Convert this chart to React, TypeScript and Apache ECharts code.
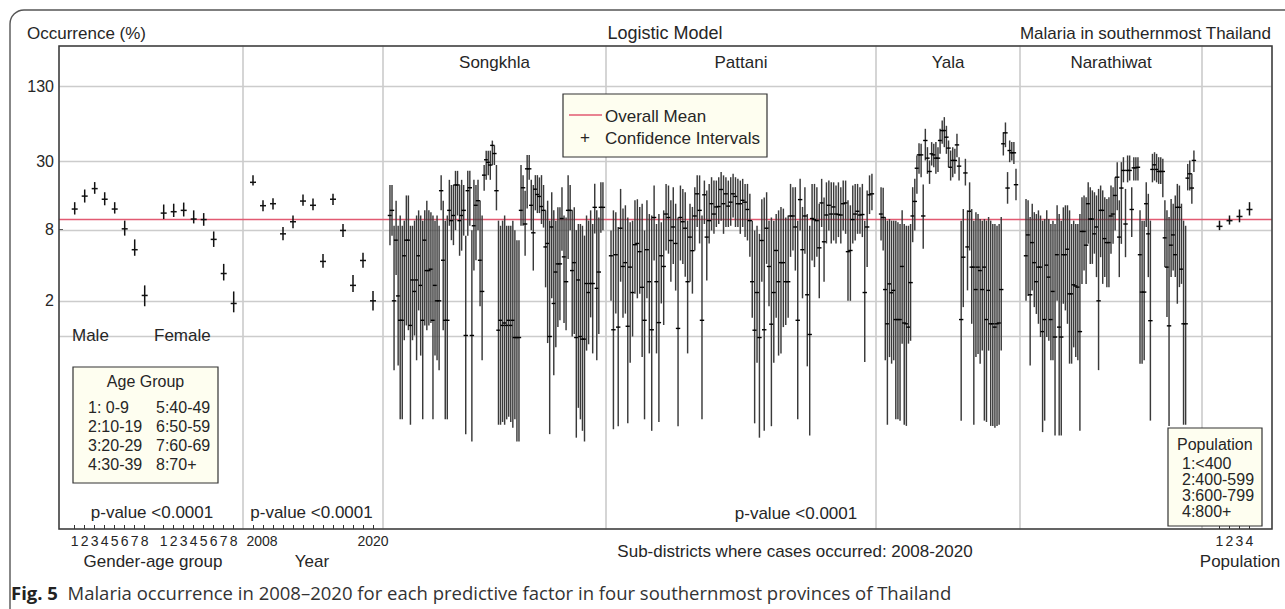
import React, { useEffect, useRef } from 'react';
import * as echarts from 'echarts';

// ---------------- data (percent occurrence) ----------------
const Y_TICKS = [130, 30, 8, 2];
const GRID_VALUES = [130, 30, 8, 2, 1];
const OVERALL_MEAN = 9.7;

const AGE_CODES = ['1', '2', '3', '4', '5', '6', '7', '8'];
const MALE_EST = [11.9, 15.3, 17.7, 14.4, 11.9, 8.1, 5.4, 2.22];
const MALE_LO = [10.7, 13.5, 16.0, 12.8, 10.9, 7.1, 4.8, 1.8];
const MALE_HI = [13.6, 17.4, 20.1, 16.5, 13.6, 9.5, 6.6, 2.7];
const FEMALE_EST = [11.0, 11.3, 11.6, 9.8, 9.7, 6.6, 3.4, 1.9];
const FEMALE_LO = [9.8, 10.2, 10.3, 9.0, 8.6, 5.7, 2.97, 1.6];
const FEMALE_HI = [13.0, 13.2, 13.5, 11.6, 11.0, 7.7, 4.1, 2.4];

const YEARS = [2008, 2009, 2010, 2011, 2012, 2013, 2014, 2015, 2016, 2017, 2018, 2019, 2020];
const YEAR_EST = [20.0, 12.7, 13.2, 7.35, 9.3, 13.9, 12.8, 4.3, 14.4, 7.85, 2.7, 4.38, 2.0];
const YEAR_LO = [18.8, 11.4, 11.8, 6.5, 8.2, 12.7, 11.6, 3.8, 12.9, 6.9, 2.37, 3.8, 1.66];
const YEAR_HI = [22.9, 14.1, 14.7, 8.4, 10.5, 15.8, 14.6, 4.96, 16.0, 8.9, 3.3, 5.1, 2.42];

const POP_CODES = [1, 2, 3, 4];
const POP_EST = [8.5, 9.5, 10.3, 11.8];
const POP_LO = [7.9, 8.8, 9.2, 10.5];
const POP_HI = [9.5, 10.5, 11.8, 13.6];

const SONGKHLA_EST = [10.5, 11.6, 2.0, 6.5, 2.2, 1.37, 1.37, 4.8, 6.5, 6.5, 1.24, 3.0, 2.4, 3.0, 4.8, 2.7, 1.37, 6.5, 3.6, 3.6, 3.7, 1.37, 2.7, 2.0, 2.0, 17, 4.4, 1.37, 1.37, 11.6, 9.5, 10.5, 19, 19, 9.5, 10.5, 11.6, 1.02, 17, 18, 1.02, 8.6, 12.8, 14, 4.4, 2.4, 23, 31, 29.5, 28, 41, 35, 17, 1.13, 1.37, 1.24, 1.3, 1.24, 1.37, 1.24, 1.37, 0.98, 0.98, 0.98, 11.6, 18, 8.9, 26, 26, 12.8, 7.5, 17.5, 15.8, 15.2, 12.5, 11.6, 5.7, 6.1, 1.0, 8.4, 1.9, 3.5, 4.1, 4.1, 9.9, 4.7, 2.9, 11.6, 11.6, 3.6, 4.2, 0.98, 3.0, 1.0, 0.95, 0.95, 2.8, 2.35, 2.8, 2.8, 12.3, 2.55, 3.5, 12.3, 12.3];
const SONGKHLA_LO = [5.9, 7.1, 0.52, 3.3, 0.57, 0.2, 0.2, 0.93, 1.24, 1.13, 0.18, 0.93, 1.02, 0.63, 1.66, 0.69, 0.2, 1.24, 1.13, 1.24, 1.3, 0.2, 0.69, 0.63, 0.52, 11.6, 1.13, 0.2, 0.2, 8.6, 6.5, 5.9, 7.9, 10.5, 4.8, 5.3, 7.1, 0.15, 7.1, 8.6, 0.13, 3.6, 4.4, 7.9, 1.8, 0.63, 17, 21, 23, 21, 28, 28, 11.6, 0.18, 0.18, 0.19, 0.18, 0.2, 0.21, 0.19, 0.17, 0.2, 0.13, 0.13, 8.6, 8.6, 4.8, 12, 21, 7.9, 3.6, 11.6, 11, 11, 8.9, 8.3, 2.6, 0.88, 0.15, 2.1, 0.47, 0.81, 1.2, 1.37, 5.3, 1.3, 1.13, 4.5, 7.9, 1.0, 1.05, 0.14, 0.25, 0.2, 0.16, 0.13, 0.76, 0.86, 1.45, 0.72, 7.4, 0.63, 1.05, 7.5, 7.9];
const SONGKHLA_HI = [19, 19, 8.6, 14, 8.6, 10.5, 8.6, 9.5, 15.5, 15.5, 8.6, 8.6, 9.5, 10.5, 11.6, 10.5, 9.5, 11.6, 14, 11.6, 11.2, 10.5, 9.5, 10.5, 8.6, 23, 14, 9.5, 10.5, 21, 19, 19, 25, 25, 19, 21, 19, 7.1, 25, 25, 7.9, 21, 19, 21, 14, 10.5, 28, 37, 37, 37, 45, 41, 28, 9.5, 8.6, 9.5, 10.5, 8.6, 8.6, 8.6, 9.5, 7.9, 6.5, 6.5, 28, 23, 17, 34, 34, 21, 19, 23, 23, 22, 23, 19, 11.6, 14, 9.5, 16.5, 11.6, 9.5, 12.3, 12.3, 18.2, 10.5, 10.1, 23, 19, 11.6, 12.3, 7.9, 8.9, 8.9, 8.6, 7.1, 10.5, 9.5, 11.6, 8.9, 19.5, 11.6, 10.1, 20, 20];

const PATTANI_EST = [4.8, 1.14, 4.9, 1.2, 8.2, 3.9, 4.2, 1.22, 3.85, 2.35, 5.95, 6.1, 5.2, 2.6, 1.37, 5.4, 2.9, 1.14, 10.1, 2.9, 1.31, 4.8, 3.9, 10.8, 10.1, 6.46, 8.4, 6.1, 1.17, 10.1, 9.3, 8.2, 2.9, 6.9, 5.3, 10.4, 16.0, 11.6, 1.37, 15.7, 6.9, 9.5, 13.2, 10.8, 12.4, 12.5, 17.4, 13.2, 16.0, 12.6, 13.6, 16.0, 15.2, 13.2, 13.2, 14.1, 13.6, 11.8, 9.5, 2.9, 1.13, 2.35, 0.98, 6.46, 1.14, 8.2, 3.9, 1.27, 2.35, 5.32, 2.9, 4.2, 4.2, 2.9, 2.9, 10.4, 10.4, 8.4, 1.37, 14.3, 5.4, 10.4, 2.25, 1.04, 9.9, 9.7, 9.5, 5.6, 13.4, 6.3, 10.6, 12.8, 10.8, 12.4, 10.8, 10.7, 10.6, 13.2, 13.4, 5.2, 5.32, 9.7, 10.8, 11.4, 10.6, 10.7, 2.35, 8.4, 15.7, 16.0];
const PATTANI_LO = [2.0, 0.165, 1.56, 0.175, 2.9, 1.44, 1.56, 0.185, 0.6, 1.0, 2.3, 2.1, 2.3, 0.67, 0.2, 2.1, 0.72, 0.16, 4.38, 0.72, 0.19, 1.9, 1.25, 5.32, 5.0, 2.9, 4.1, 2.44, 0.175, 4.38, 4.1, 3.2, 0.72, 2.9, 2.3, 5.32, 8.4, 6.1, 0.2, 8.9, 2.97, 6.1, 7.85, 7.35, 8.4, 8.9, 9.5, 7.35, 8.4, 8.4, 8.6, 10.1, 8.4, 8.4, 7.35, 8.4, 6.9, 6.46, 4.7, 1.44, 0.185, 0.6, 0.14, 2.9, 0.16, 4.1, 1.8, 0.175, 0.6, 1.44, 0.69, 0.72, 1.2, 1.25, 1.44, 4.7, 5.32, 3.6, 0.2, 7.85, 2.1, 5.0, 0.56, 0.146, 4.38, 3.85, 4.7, 2.1, 8.4, 2.9, 6.1, 7.85, 6.1, 6.46, 6.1, 6.9, 6.1, 7.85, 7.35, 2.0, 2.0, 6.1, 6.46, 7.35, 7.35, 6.9, 0.61, 3.85, 10.8, 11.6];
const PATTANI_HI = [7.85, 11.6, 11.2, 8.4, 17.6, 12.0, 12.8, 10.1, 9.2, 9.5, 14.1, 14.4, 12.4, 13.2, 7.85, 14.1, 10.8, 10.5, 18.8, 8.9, 10.8, 9.2, 11.6, 19.4, 18.8, 14.1, 18.2, 13.2, 10.1, 18.8, 17.6, 16.5, 9.5, 13.2, 12.4, 18.2, 22.9, 22.9, 10.5, 20.7, 17.1, 19.4, 22.1, 20.7, 20.7, 22.1, 24.5, 22.9, 22.1, 20.7, 22.1, 23.6, 22.1, 21.4, 20.7, 21.4, 19.4, 19.4, 16.0, 9.5, 7.85, 8.6, 7.35, 14.4, 14.9, 16.5, 9.5, 10.1, 9.5, 10.8, 11.6, 12.4, 12.0, 10.1, 10.5, 19.4, 18.2, 18.2, 9.5, 21.4, 12.4, 18.2, 10.8, 8.6, 19.4, 19.4, 18.2, 13.2, 21.4, 14.9, 20.0, 20.7, 20.0, 20.0, 18.8, 20.0, 18.2, 20.7, 20.7, 14.1, 12.8, 18.8, 19.4, 19.4, 18.2, 19.4, 9.5, 17.1, 22.9, 23.6];

const YALA_EST = [10.8, 10.1, 2.49, 1.28, 2.78, 2.34, 2.45, 1.39, 1.39, 1.39, 3.9, 1.3, 1.28, 1.2, 2.85, 10.4, 13.8, 26.3, 34.1, 34.1, 10.4, 45.1, 32, 24.7, 34.8, 34.1, 32, 32, 45.1, 54.7, 54.7, 48.1, 38.9, 26.8, 30.6, 30.6, 41.4, 27.4, 1.39, 4.67, 24.0, 5.7, 11.4, 3.85, 3.85, 2.49, 3.85, 3.6, 2.49, 3.85, 1.39, 2.45, 1.28, 1.28, 1.2, 1.28, 1.3, 2.49, 42.3, 52.3, 17.9, 37.1, 35.5, 35.5, 19.1];
const YALA_LO = [6.46, 5.32, 0.63, 0.18, 0.67, 0.59, 0.63, 0.2, 0.2, 0.195, 0.87, 0.18, 0.176, 0.87, 0.92, 6.25, 7.85, 16.0, 23.6, 22.1, 5.5, 30.6, 23.6, 19.4, 27.7, 26.8, 23.6, 24.4, 34.8, 42.3, 39.6, 34.8, 26.8, 20.7, 22.1, 23.6, 32.6, 20.7, 0.195, 1.77, 18.8, 2.45, 5.32, 1.28, 0.18, 0.67, 0.71, 0.59, 0.76, 0.195, 0.19, 0.76, 0.176, 0.176, 0.17, 0.176, 0.18, 0.76, 33.7, 39.6, 13.2, 29.6, 30.6, 28.6, 14.1];
const YALA_HI = [18.2, 18.0, 10.2, 9.5, 9.8, 9.5, 9.5, 9.5, 9.2, 8.9, 11.6, 8.9, 8.6, 8.6, 8.9, 18.2, 21.4, 33.7, 42.8, 42.3, 19.2, 56.6, 39.6, 30.6, 43.7, 42.3, 43.7, 39.6, 56.6, 66.5, 71, 60, 45.1, 37.1, 39.6, 38.4, 51.3, 32.6, 9.5, 11.9, 31.6, 11.6, 20.0, 11.9, 9.5, 11.2, 10.8, 9.8, 9.5, 9.8, 9.5, 10.2, 9.5, 8.9, 8.9, 8.6, 8.9, 10.2, 53, 64, 24.4, 45.1, 43.7, 43.7, 26];

const NARATHIWAT_EST = [4.8, 7.2, 2.25, 6.2, 4.2, 2.9, 3.85, 3.85, 1.1, 1.39, 4.0, 3.17, 1.39, 2.4, 0.99, 4.9, 1.2, 0.99, 4.9, 4.9, 5.45, 2.29, 2.29, 2.73, 2.67, 2.61, 1.1, 7.7, 7.7, 5.9, 13.2, 9.8, 9.8, 7.35, 8.4, 2.0, 11.6, 11.6, 6.7, 6.2, 6.2, 10.4, 10.8, 15.5, 22.1, 6.9, 17.9, 25.2, 8.9, 25.2, 25.2, 11.8, 26.5, 26.5, 26.8, 4.9, 2.37, 2.37, 13.2, 7.35, 1.36, 25.7, 28.1, 25.7, 24.7, 24.7, 24.7, 6.8, 3.85, 1.23, 5.9, 7.2, 4.9, 12.3, 12.3, 3.7, 1.28, 1.28, 21.7, 23.6, 17.9, 30.6];
const NARATHIWAT_LO = [2.0, 2.2, 0.57, 2.45, 1.77, 1.55, 1.28, 0.99, 0.156, 0.195, 0.99, 0.92, 0.63, 0.63, 0.146, 2.0, 0.146, 0.146, 1.89, 1.66, 1.28, 0.59, 0.59, 0.81, 0.67, 0.63, 0.16, 2.78, 3.6, 2.78, 6.05, 4.1, 4.1, 5.0, 3.17, 0.52, 4.67, 2.78, 3.17, 2.61, 2.61, 5.0, 6.05, 7.85, 11.6, 3.17, 6.05, 20.0, 4.67, 20.0, 20.7, 6.9, 20.7, 20.7, 20.7, 0.59, 0.59, 0.63, 8.4, 3.17, 0.195, 20.0, 20.7, 20.0, 19.4, 19.4, 15.0, 3.85, 1.46, 0.176, 3.17, 3.6, 3.17, 1.89, 2.61, 2.78, 0.18, 0.18, 17.1, 17.1, 13.2, 24.4];
const NARATHIWAT_HI = [14.5, 14.1, 10.2, 13.2, 11.2, 10.8, 11.6, 10.5, 9.5, 9.8, 11.6, 9.8, 8.9, 9.5, 8.9, 12.8, 10.8, 9.5, 12.3, 12.8, 12.8, 11.6, 8.9, 9.5, 8.9, 8.9, 10.8, 15.0, 15.5, 15.0, 20.0, 18.2, 17.1, 16.5, 15.5, 17.6, 18.8, 17.1, 15.0, 14.5, 15.0, 18.8, 18.2, 22.1, 29.6, 14.1, 29.6, 32.6, 17.6, 33.7, 33.7, 18.2, 32.6, 32.6, 32.6, 11.6, 9.5, 9.5, 20.0, 16.0, 9.5, 34.8, 35.9, 34.8, 32.6, 32.6, 31.6, 14.1, 11.6, 10.2, 14.5, 13.2, 15.5, 19.4, 18.8, 13.2, 9.5, 8.6, 28.6, 30.6, 23.6, 37.1];

const PROVINCES = ['Songkhla', 'Pattani', 'Yala', 'Narathiwat'];
const AGE_LEGEND_LEFT = ['1: 0-9', '2:10-19', '3:20-29', '4:30-39'];
const AGE_LEGEND_RIGHT = ['5:40-49', '6:50-59', '7:60-69', '8:70+'];
const POP_LEGEND = ['1:<400', '2:400-599', '3:600-799', '4:800+'];

// ---------------- layout / style ----------------
const FONT = 'Arial, Liberation Sans, sans-serif';
const CAPTION_FONT = 'Open Sans, Noto Sans, sans-serif';
const TXT = '#262626';
const Y_MIN = -1.6245;
const Y_MAX = 2.4515;
const lg = (v: number) => Math.log10(v);

const PLOT_L = 59, PLOT_T = 46, PLOT_R = 1272, PLOT_B = 529;
const PANELS = [
  { x0: 59, x1: 243, min: -0.57, max: 17.83 },
  { x0: 243, x1: 383, min: 2007, max: 2021 },
  { x0: 383, x1: 606, min: -3.4, max: SONGKHLA_EST.length - 1 + 1.5 },
  { x0: 606, x1: 876, min: -2.1, max: PATTANI_EST.length - 1 + 1.7 },
  { x0: 876, x1: 1020, min: -2.4, max: YALA_EST.length - 1 + 1.9 },
  { x0: 1020, x1: 1202, min: -2.9, max: NARATHIWAT_EST.length - 1 + 3.9 },
  { x0: 1202, x1: 1272, min: -0.75, max: 6.25 },
];

const MALE_X = AGE_CODES.map((_, i) => i + 1);
const FEMALE_X = AGE_CODES.map((_, i) => i + 9.9);
const GENDER_X = [...MALE_X, ...FEMALE_X];

function items(xs: number[], est: number[], lo: number[], hi: number[]) {
  return est.map((e, i) => [xs[i], lg(lo[i]), lg(hi[i]), lg(e)]);
}
const idx = (n: number) => Array.from({ length: n }, (_, i) => i);

function makeRender(cap: number, barColor: string, barWidth: number, capColor: string, capWidth: number) {
  return (_params: any, api: any) => {
    const x = api.value(0);
    const a = api.coord([x, api.value(1)]);
    const b = api.coord([x, api.value(2)]);
    const c = api.coord([x, api.value(3)]);
    return {
      type: 'group',
      children: [
        { type: 'line', shape: { x1: a[0], y1: a[1], x2: b[0], y2: b[1] }, style: { stroke: barColor, lineWidth: barWidth } },
        { type: 'line', shape: { x1: c[0] - cap, y1: c[1], x2: c[0] + cap, y2: c[1] }, style: { stroke: capColor, lineWidth: capWidth } },
      ],
    };
  };
}

function txt(text: string, x: number, y: number, align: string = 'left', size = 17, extra: any = {}) {
  return {
    type: 'text', x, y, z: 60, silent: true,
    style: {
      text, fill: TXT, fontSize: size, fontFamily: FONT,
      align, textAlign: align, verticalAlign: 'middle', textVerticalAlign: 'middle', ...extra,
    },
  };
}

function buildOption() {
  const grids: any[] = [{ left: PLOT_L, top: PLOT_T, width: PLOT_R - PLOT_L, height: PLOT_B - PLOT_T, show: false }];
  PANELS.forEach((p) => {
    grids.push({ left: p.x0, top: PLOT_T, width: p.x1 - p.x0, height: PLOT_B - PLOT_T, show: true, borderColor: '#cdcdcd', borderWidth: 1.2, backgroundColor: 'transparent' });
  });

  const tickStyle = { show: true, inside: true, length: 4, lineStyle: { color: '#333', width: 1 } };
  const labelBase = { color: TXT, fontSize: 14, fontFamily: FONT, margin: 5 };

  const xAxes: any[] = [{ gridIndex: 0, type: 'value', min: 0, max: 1, show: false }];
  PANELS.forEach((p, i) => {
    const base: any = {
      gridIndex: i + 1, type: 'value', min: p.min, max: p.max, position: 'bottom',
      axisLine: { show: false, onZero: false }, splitLine: { show: false },
      axisTick: { show: false }, axisLabel: { show: false },
    };
    if (i === 0) {
      base.axisTick = { ...tickStyle, customValues: GENDER_X };
      base.axisLabel = {
        ...labelBase, show: true, customValues: GENDER_X,
        formatter: (v: number) => {
          const k = GENDER_X.findIndex((g) => Math.abs(g - v) < 1e-6);
          return k >= 0 ? AGE_CODES[k % 8] : '';
        },
      };
    } else if (i === 1) {
      base.axisTick = { ...tickStyle, customValues: YEARS };
      base.axisLabel = {
        ...labelBase, show: true, customValues: [YEARS[0], YEARS[YEARS.length - 1]],
        formatter: (v: number) => (Math.round(v) === YEARS[0] ? '{s|' + YEARS[0] + '}' : String(Math.round(v))),
        rich: { s: { fontSize: 14, fontFamily: FONT, color: TXT, padding: [0, 0, 0, 18] } },
      };
    } else if (i === 6) {
      base.axisTick = { ...tickStyle, customValues: POP_CODES };
      base.axisLabel = { ...labelBase, show: true, customValues: POP_CODES, formatter: (v: number) => String(Math.round(v)) };
    }
    xAxes.push(base);
  });

  const yAxes: any[] = [{
    gridIndex: 0, type: 'value', min: Y_MIN, max: Y_MAX, position: 'left',
    axisLine: { show: false, onZero: false }, splitLine: { show: false },
    axisTick: { ...tickStyle, customValues: Y_TICKS.map(lg) },
    axisLabel: {
      show: true, customValues: Y_TICKS.map(lg), color: TXT, fontSize: 16, fontFamily: FONT, margin: 5,
      formatter: (v: number) => String(Math.round(Math.pow(10, v))),
    },
  }];
  PANELS.forEach((_, i) => {
    yAxes.push({ gridIndex: i + 1, type: 'value', min: Y_MIN, max: Y_MAX, show: false, axisLine: { onZero: false } });
  });

  const smallRender = makeRender(3, '#111', 1.5, '#111', 1.5);
  const denseRender = makeRender(2.2, '#3a3a3a', 1.45, '#000', 1.4);

  const series: any[] = [
    {
      type: 'line', xAxisIndex: 0, yAxisIndex: 0, data: [], symbol: 'none', silent: true, z: 1,
      markLine: {
        silent: true, symbol: ['none', 'none'], label: { show: false }, animation: false,
        lineStyle: { color: '#cccccc', width: 1.3, type: 'solid' },
        data: GRID_VALUES.map((v) => ({ yAxis: lg(v) })),
      },
    },
    {
      type: 'custom', name: 'Gender-age group', xAxisIndex: 1, yAxisIndex: 1, z: 5,
      renderItem: smallRender,
      data: [...items(MALE_X, MALE_EST, MALE_LO, MALE_HI), ...items(FEMALE_X, FEMALE_EST, FEMALE_LO, FEMALE_HI)],
    },
    {
      type: 'custom', name: 'Year', xAxisIndex: 2, yAxisIndex: 2, z: 5,
      renderItem: smallRender, data: items(YEARS, YEAR_EST, YEAR_LO, YEAR_HI),
    },
    {
      type: 'custom', name: 'Songkhla', xAxisIndex: 3, yAxisIndex: 3, z: 5,
      renderItem: denseRender, data: items(idx(SONGKHLA_EST.length), SONGKHLA_EST, SONGKHLA_LO, SONGKHLA_HI),
    },
    {
      type: 'custom', name: 'Pattani', xAxisIndex: 4, yAxisIndex: 4, z: 5,
      renderItem: denseRender, data: items(idx(PATTANI_EST.length), PATTANI_EST, PATTANI_LO, PATTANI_HI),
    },
    {
      type: 'custom', name: 'Yala', xAxisIndex: 5, yAxisIndex: 5, z: 5,
      renderItem: denseRender, data: items(idx(YALA_EST.length), YALA_EST, YALA_LO, YALA_HI),
    },
    {
      type: 'custom', name: 'Narathiwat', xAxisIndex: 6, yAxisIndex: 6, z: 5,
      renderItem: denseRender, data: items(idx(NARATHIWAT_EST.length), NARATHIWAT_EST, NARATHIWAT_LO, NARATHIWAT_HI),
    },
    {
      type: 'custom', name: 'Population', xAxisIndex: 7, yAxisIndex: 7, z: 5,
      renderItem: smallRender, data: items(POP_CODES, POP_EST, POP_LO, POP_HI),
    },
    {
      type: 'line', name: 'Overall Mean', xAxisIndex: 0, yAxisIndex: 0, data: [], symbol: 'none', silent: true, z: 20,
      markLine: {
        silent: true, symbol: ['none', 'none'], label: { show: false }, animation: false,
        lineStyle: { color: '#e25a72', width: 1.4, type: 'solid' },
        data: [{ yAxis: lg(OVERALL_MEAN) }],
      },
    },
  ];

  const ivory = '#fefef0';
  const provinceCenters = PANELS.slice(2, 6).map((p) => (p.x0 + p.x1) / 2);

  const graphic: any[] = [
    { type: 'rect', silent: true, z: 0, shape: { x: 10, y: 10, width: 1300, height: 640, r: 14 }, style: { fill: 'transparent', stroke: '#555', lineWidth: 1.4 } },
    { type: 'rect', silent: true, z: 100, shape: { x: PLOT_L, y: PLOT_T, width: PLOT_R - PLOT_L, height: PLOT_B - PLOT_T }, style: { fill: 'transparent', stroke: '#3a3a3a', lineWidth: 1.5 } },
    txt('Occurrence (%)', 27, 33),
    txt('Logistic Model', 665, 33, 'center', 18),
    txt('Malaria in southernmost Thailand', 1271, 33, 'right'),
    ...PROVINCES.map((name, i) => txt(name, provinceCenters[i], 62, 'center')),
    txt('Male', 72, 335),
    txt('Female', 154, 335),
    { type: 'rect', silent: true, z: 50, shape: { x: 73, y: 367, width: 145, height: 116 }, style: { fill: ivory, stroke: '#333', lineWidth: 1.2 } },
    txt('Age Group', 145.5, 381, 'center', 16),
    ...AGE_LEGEND_LEFT.map((s, i) => txt(s, 88, 407 + i * 19, 'left', 16)),
    ...AGE_LEGEND_RIGHT.map((s, i) => txt(s, 156, 407 + i * 19, 'left', 16)),
    txt('p-value <0.0001', 152, 512, 'center'),
    txt('p-value <0.0001', 311.5, 512, 'center'),
    txt('p-value <0.0001', 796, 513, 'center'),
    { type: 'rect', silent: true, z: 50, shape: { x: 563, y: 94, width: 204, height: 63 }, style: { fill: ivory, stroke: '#333', lineWidth: 1.2 } },
    { type: 'line', silent: true, z: 61, shape: { x1: 569, y1: 115, x2: 602, y2: 115 }, style: { stroke: '#e25a72', lineWidth: 1.4 } },
    txt('Overall Mean', 605, 116),
    txt('+', 585, 137, 'center'),
    txt('Confidence Intervals', 605, 138),
    { type: 'rect', silent: true, z: 50, shape: { x: 1168, y: 428, width: 94, height: 98 }, style: { fill: ivory, stroke: '#333', lineWidth: 1.2 } },
    txt('Population', 1177, 444, 'left', 16),
    ...POP_LEGEND.map((s, i) => txt(s, 1182, 463 + i * 16, 'left', 16)),
    txt('Gender-age group', 153, 561, 'center'),
    txt('Year', 312, 561, 'center'),
    txt('Sub-districts where cases occurred: 2008-2020', 795, 551, 'center'),
    txt('Population', 1240, 561, 'center'),
    {
      type: 'text', x: 11, y: 592, z: 60, silent: true,
      style: {
        text: '{b|Fig. 5}  Malaria occurrence in 2008\u20132020 for each predictive factor in four southernmost provinces of Thailand',
        fill: '#333', fontSize: 18.5, fontFamily: CAPTION_FONT,
        align: 'left', textAlign: 'left', verticalAlign: 'middle', textVerticalAlign: 'middle',
        rich: { b: { fontWeight: 'bold', fontSize: 18.5, fill: '#222', fontFamily: CAPTION_FONT } },
      },
    },
  ];

  return {
    animation: false,
    backgroundColor: '#ffffff',
    textStyle: { fontFamily: FONT },
    grid: grids,
    xAxis: xAxes,
    yAxis: yAxes,
    series,
    graphic,
  };
}

export default function App() {
  const ref = useRef<HTMLDivElement | null>(null);
  useEffect(() => {
    if (!ref.current) return;
    const chart = echarts.init(ref.current, undefined, { renderer: 'svg' });
    chart.setOption(buildOption() as any);
    return () => chart.dispose();
  }, []);
  return (
    <div
      ref={ref}
      style={{ position: 'absolute', left: 0, top: 0, width: 1285, height: 609, background: '#fff' }}
    />
  );
}
